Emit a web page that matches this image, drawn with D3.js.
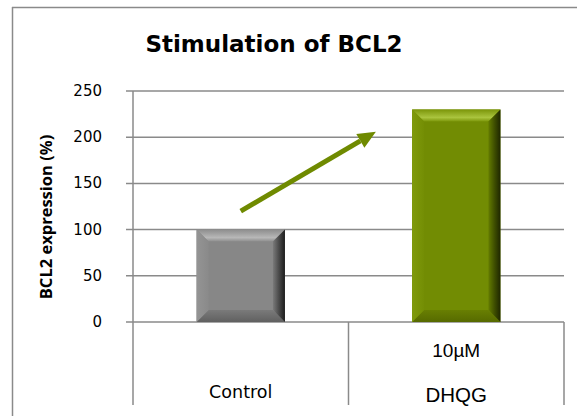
<!DOCTYPE html>
<html>
<head>
<meta charset="utf-8">
<script src="https://cdn.jsdelivr.net/npm/d3@7"></script>
<style>
  body { margin: 0; background: #fff; }
  svg { display: block; }
</style>
</head>
<body>
<script>
// data
var categories = ["Control", "DHQG"];
var values = [100, 230];
var subLabels = ["", "10\u00b5M"];
var yTicks = [0, 50, 100, 150, 200, 250];
// arrow in data units: category, offset in bands from centre, value
var arrowFrom = { cat: "Control", off: 0, value: 120 };
var arrowTo = { cat: "DHQG", off: -0.373, value: 206 };

var W = 577, H = 416;
var plotL = 133, plotR = 564, plotT = 91, plotB = 322, axisBottom = 405;

var svg = d3.select("body").append("svg")
  .attr("width", W).attr("height", H);

var defs = svg.append("defs");

var palettes = {
  Control: { face: "#878787", top: ["#8e8e8e", "#a2a2a2", "#b8b8b8", "#8c8c8c"], left: ["#949494", "#8a8a8a"], right: ["#7a7a7a", "#4a4a4a", "#1c1c1c"], bottom: ["#7a7a7a", "#606060"] },
  DHQG: { face: "#728c03", top: ["#7b9509", "#93ad24", "#aac43e", "#7c970a"], left: ["#7f9a0c", "#748e04"], right: ["#647c00", "#3f4f00", "#1e2600"], bottom: ["#687f02", "#566a00"] }
};

function grad(id, stops, horiz) {
  var g = defs.append("linearGradient").attr("id", id)
    .attr("x1", 0).attr("y1", 0).attr("x2", horiz ? 1 : 0).attr("y2", horiz ? 0 : 1);
  stops.forEach(function (c, i) {
    g.append("stop").attr("offset", i / (stops.length - 1)).attr("stop-color", c);
  });
}
categories.forEach(function (c) {
  var p = palettes[c];
  grad("top-" + c, p.top, false);
  grad("bot-" + c, p.bottom, false);
  grad("left-" + c, p.left, true);
  grad("right-" + c, p.right, true);
});

var x = d3.scaleBand().domain(categories).range([plotL, plotR]).padding(0);
var y = d3.scaleLinear().domain([0, 250]).range([plotB, plotT]);

var grey = "#8a8a8a";

// outer frame
svg.append("line").attr("x1", 12).attr("x2", W).attr("y1", 7.5).attr("y2", 7.5)
  .attr("stroke", grey).attr("stroke-width", 1.5);
svg.append("line").attr("x1", 12.5).attr("x2", 12.5).attr("y1", 7).attr("y2", H)
  .attr("stroke", grey).attr("stroke-width", 1.5);

// title
svg.append("text")
  .attr("x", 274).attr("y", 52)
  .attr("text-anchor", "middle")
  .style("font-family", "DejaVu Sans, Verdana, sans-serif")
  .style("font-weight", "bold")
  .style("font-size", "23px")
  .text("Stimulation of BCL2");

// gridlines
svg.append("g").selectAll("line")
  .data(yTicks).enter().append("line")
  .attr("x1", plotL - 7).attr("x2", plotR)
  .attr("y1", function (d) { return y(d); })
  .attr("y2", function (d) { return y(d); })
  .attr("stroke", grey).attr("stroke-width", 1.5);

// tick labels
svg.append("g").selectAll("text")
  .data(yTicks).enter().append("text")
  .attr("x", 102)
  .attr("y", function (d) { return y(d) + 5; })
  .attr("text-anchor", "end")
  .style("font-family", "DejaVu Sans, Verdana, sans-serif")
  .style("font-size", "15px")
  .text(function (d) { return d; });

// axis line
svg.append("line")
  .attr("x1", plotL).attr("x2", plotL)
  .attr("y1", plotT).attr("y2", axisBottom)
  .attr("stroke", grey).attr("stroke-width", 1.5);

// category separators
svg.append("g").selectAll("line")
  .data(categories).enter().append("line")
  .attr("x1", function (d) { return x(d) + x.bandwidth(); })
  .attr("x2", function (d) { return x(d) + x.bandwidth(); })
  .attr("y1", plotB).attr("y2", axisBottom)
  .attr("stroke", grey).attr("stroke-width", 1.5);

// y label
svg.append("text")
  .attr("transform", "translate(52," + 217 + ") rotate(-90)")
  .attr("text-anchor", "middle")
  .style("font-family", "Open Sans, sans-serif")
  .style("font-weight", "bold")
  .style("font-size", "16.5px")
  .text("BCL2 expression (%)");

// bars with bevel
var barW = x.bandwidth() * 0.41, bev = 12;
var bars = svg.append("g").selectAll("g")
  .data(categories).enter().append("g");

bars.each(function (c, i) {
  var g = d3.select(this), p = palettes[c];
  var x0 = x(c) + (x.bandwidth() - barW) / 2, x1 = x0 + barW;
  var y0 = y(values[i]), y1 = y(0);
  function poly(pts, fill) {
    g.append("polygon").attr("points", pts.map(function (q) { return q.join(","); }).join(" ")).attr("fill", fill);
  }
  g.append("rect").attr("x", x0).attr("y", y0).attr("width", barW).attr("height", y1 - y0).attr("fill", p.face);
  poly([[x0, y0], [x1, y0], [x1 - bev, y0 + bev], [x0 + bev, y0 + bev]], "url(#top-" + c + ")");
  poly([[x0, y1], [x1, y1], [x1 - bev, y1 - bev], [x0 + bev, y1 - bev]], "url(#bot-" + c + ")");
  poly([[x0, y0], [x0 + bev, y0 + bev], [x0 + bev, y1 - bev], [x0, y1]], "url(#left-" + c + ")");
  poly([[x1, y0], [x1 - bev, y0 + bev], [x1 - bev, y1 - bev], [x1, y1]], "url(#right-" + c + ")");
});

// category labels
svg.append("g").selectAll("text")
  .data(categories).enter().append("text")
  .attr("x", function (d) { return x(d) + x.bandwidth() / 2; })
  .attr("y", function (d) { return d === "Control" ? 398 : 402; })
  .attr("text-anchor", "middle")
  .style("font-family", function (d) { return d === "Control" ? "DejaVu Sans, Verdana, sans-serif" : "Liberation Sans, Arial, sans-serif"; })
  .style("font-size", function (d) { return d === "Control" ? "17.5px" : "20.5px"; })
  .text(function (d) { return d; });

svg.append("g").selectAll("text")
  .data(categories.filter(function (d, i) { return subLabels[i]; })).enter().append("text")
  .attr("x", function (d) { return x(d) + x.bandwidth() / 2; })
  .attr("y", 357)
  .attr("text-anchor", "middle")
  .style("font-family", "Liberation Sans, Arial, sans-serif")
  .style("font-size", "19px")
  .text(function (d) { return subLabels[categories.indexOf(d)]; });

// arrow
var green = "#6f8a00";
function ax(a) { return x(a.cat) + x.bandwidth() / 2 + a.off * x.bandwidth(); }
var sx = ax(arrowFrom), sy = y(arrowFrom.value);
var ex = ax(arrowTo), ey = y(arrowTo.value);
var ang = Math.atan2(ey - sy, ex - sx);
var headL = 18, headW = 8;
var bx = ex - headL * Math.cos(ang), by = ey - headL * Math.sin(ang);
svg.append("line")
  .attr("x1", sx).attr("y1", sy).attr("x2", bx).attr("y2", by)
  .attr("stroke", green).attr("stroke-width", 5);
svg.append("polygon")
  .attr("points", [
    [ex, ey],
    [bx + headW * Math.sin(ang), by - headW * Math.cos(ang)],
    [bx - headW * Math.sin(ang), by + headW * Math.cos(ang)]
  ].map(function (q) { return q.join(","); }).join(" "))
  .attr("fill", green);
</script>
</body>
</html>
